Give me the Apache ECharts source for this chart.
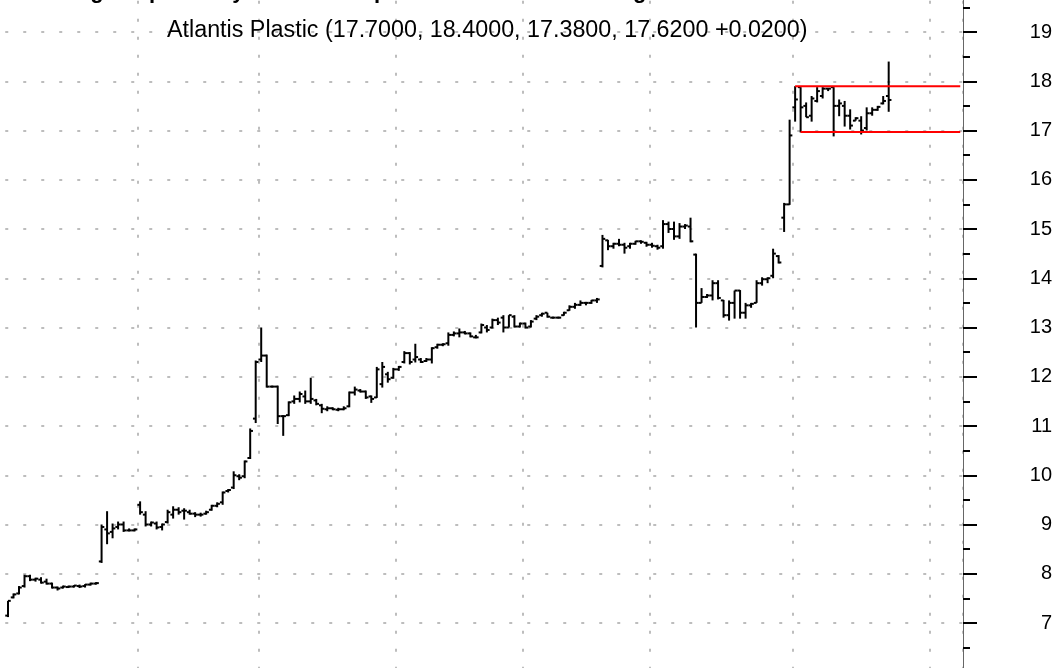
<!DOCTYPE html>
<html>
<head>
<meta charset="utf-8">
<title>Atlantis Plastic</title>
<script src="https://cdn.jsdelivr.net/npm/echarts@6.0.0/dist/echarts.min.js"></script>
<style>
	html, body {margin: 0; padding: 0; background: #fff;}
	#chart {width: 1061px; height: 668px;}
</style>
</head>
<body>
<div id="chart"></div>
<script>
// daily bars
var opens = [7.15,7.52,7.6,7.75,7.95,7.88,7.88,7.84,7.8,7.72,
	7.72,7.73,7.74,7.75,7.75,7.78,7.8,8.25,8.9,8.85,
	8.95,9.0,8.88,8.88,9.4,9.2,9.0,9.02,8.95,9.05,
	9.2,9.3,9.28,9.25,9.22,9.2,9.22,9.3,9.38,9.45,
	9.68,9.75,9.98,9.98,10.35,11.15,12.35,12.43,11.8,11.8,
	11.2,11.22,11.5,11.55,11.6,11.5,11.52,11.42,11.34,11.36,
	11.33,11.34,11.4,11.68,11.72,11.7,11.6,11.58,11.85,12.05,
	11.98,12.15,12.3,12.48,12.35,12.35,12.32,12.35,12.6,12.65,
	12.68,12.85,12.88,12.9,12.88,12.8,12.9,13.0,13.0,13.15,
	13.2,13.0,13.22,13.02,13.08,13.02,13.18,13.25,13.3,13.2,
	13.2,13.25,13.35,13.42,13.46,13.5,13.5,13.55,14.25,14.77,
	14.65,14.7,14.68,14.65,14.7,14.75,14.72,14.68,14.65,14.65,
	15.1,15.0,14.85,15.05,15.05,14.48,13.5,13.62,13.65,13.9,
	13.55,13.25,13.5,13.75,13.3,13.45,13.5,13.9,13.98,14.05,
	14.45,15.23,15.5,17.47,17.88,17.5,17.3,17.6,17.7,17.85,
	17.88,17.5,17.5,17.3,17.2,17.2,17.05,17.35,17.42,17.55,
	17.7];
var highs = [7.45,7.6,7.75,7.98,7.98,7.92,7.93,7.9,7.82,7.74,
	7.76,7.76,7.77,7.78,7.79,7.82,7.83,9.0,9.27,9.02,
	9.06,9.06,8.92,8.92,9.47,9.27,9.06,9.06,9.02,9.3,
	9.37,9.35,9.33,9.3,9.25,9.24,9.28,9.4,9.45,9.67,
	9.72,10.08,10.02,10.3,10.95,12.33,13.0,12.45,11.82,11.82,
	11.22,11.5,11.62,11.7,11.72,11.98,11.55,11.45,11.4,11.38,
	11.37,11.4,11.7,11.8,11.75,11.72,11.62,12.2,12.3,12.1,
	12.18,12.22,12.52,12.5,12.67,12.38,12.38,12.6,12.67,12.68,
	12.9,12.92,12.98,12.93,12.9,12.85,13.08,13.05,13.18,13.2,
	13.25,13.25,13.25,13.1,13.1,13.15,13.25,13.3,13.3,13.22,
	13.22,13.32,13.45,13.5,13.55,13.52,13.56,13.6,14.88,14.78,
	14.72,14.8,14.72,14.72,14.76,14.77,14.74,14.72,14.68,15.18,
	15.15,15.15,15.12,15.1,15.23,14.5,13.8,13.68,13.96,13.96,
	13.56,13.55,13.75,13.76,13.5,13.5,13.96,14.02,14.02,14.6,
	14.47,15.53,17.22,17.9,17.88,17.57,17.7,17.88,17.88,17.86,
	17.88,17.63,17.6,17.43,17.27,17.29,17.47,17.47,17.5,17.7,
	18.4];
var lows = [7.12,7.5,7.58,7.72,7.85,7.84,7.8,7.78,7.7,7.66,
	7.7,7.71,7.72,7.71,7.72,7.76,7.78,8.22,8.6,8.72,
	8.9,8.85,8.86,8.86,9.2,8.96,8.96,8.9,8.88,9.02,
	9.12,9.2,9.1,9.2,9.15,9.16,9.2,9.28,9.35,9.4,
	9.65,9.72,9.9,9.94,10.33,11.06,12.3,11.78,11.78,11.04,
	10.8,11.2,11.45,11.48,11.45,11.45,11.42,11.26,11.3,11.32,
	11.3,11.32,11.38,11.62,11.68,11.55,11.47,11.57,11.78,11.88,
	11.96,12.12,12.27,12.25,12.29,12.28,12.3,12.27,12.57,12.62,
	12.63,12.82,12.8,12.86,12.8,12.78,12.88,12.9,12.98,13.05,
	12.9,13.0,13.0,13.0,12.98,13.0,13.15,13.22,13.2,13.18,
	13.18,13.24,13.34,13.38,13.44,13.45,13.48,13.5,14.22,14.57,
	14.6,14.65,14.5,14.6,14.68,14.7,14.64,14.62,14.58,14.6,
	14.92,14.78,14.8,15.0,14.73,13.0,13.5,13.6,13.55,13.57,
	13.2,13.14,13.18,13.18,13.18,13.4,13.5,13.85,13.9,14.0,
	14.3,14.94,15.49,17.18,16.96,17.27,17.18,17.57,17.65,17.8,
	16.88,17.29,17.08,17.02,17.2,16.92,17.0,17.3,17.4,17.53,
	17.38];
var closes = [7.45,7.58,7.72,7.95,7.88,7.9,7.82,7.8,7.72,7.7,
	7.74,7.74,7.76,7.74,7.78,7.8,7.81,8.95,8.82,8.92,
	9.0,8.88,8.88,8.9,9.25,9.0,9.04,8.94,9.0,9.25,
	9.3,9.25,9.28,9.22,9.2,9.2,9.25,9.38,9.42,9.65,
	9.7,10.0,9.95,10.28,10.9,12.3,12.43,11.8,11.8,11.2,
	11.2,11.48,11.55,11.65,11.5,11.55,11.45,11.35,11.36,11.34,
	11.34,11.36,11.68,11.74,11.7,11.58,11.55,12.15,12.2,11.95,
	12.15,12.2,12.48,12.3,12.4,12.3,12.35,12.58,12.65,12.66,
	12.85,12.88,12.9,12.88,12.82,12.8,13.05,12.95,13.15,13.1,
	13.0,13.25,13.02,13.08,13.0,13.12,13.22,13.28,13.22,13.2,
	13.2,13.3,13.42,13.46,13.5,13.5,13.55,13.57,14.8,14.65,
	14.7,14.68,14.62,14.7,14.75,14.74,14.68,14.66,14.62,15.1,
	15.0,14.85,15.05,15.07,14.75,13.5,13.62,13.65,13.9,13.6,
	13.25,13.5,13.75,13.3,13.45,13.48,13.9,13.98,14.0,14.5,
	14.32,15.5,16.9,17.63,17.47,17.27,17.65,17.8,17.85,17.85,
	17.5,17.55,17.3,17.1,17.25,17.0,17.35,17.42,17.48,17.6,
	17.62];

var dayCount = 174;            // trading-day slots incl. empty space on the right
var monthStarts = [24, 46, 71, 94, 117, 143, 168];
var rectTop = 17.9, rectTopFrom = 143;
var rectBottom = 16.97, rectBottomFrom = 144;
var titleText = 'Rectangle top in daily chart with upward breakout from range';
var subText = 'Atlantis Plastic (17.7000, 18.4000, 17.3800, 17.6200 +0.0200)';

var days = [], bars = [], topLine = [], bottomLine = [];
for (var i = 0; i < dayCount; i++) {
	days.push(String(i + 1));
	topLine.push(i >= rectTopFrom ? rectTop : null);
	bottomLine.push(i >= rectBottomFrom ? rectBottom : null);
}
for (var j = 0; j < closes.length; j++) {
	bars.push([j, opens[j], highs[j], lows[j], closes[j]]);
}

function renderOhlc(params, api) {
	var x = api.value(0);
	var o = api.coord([x, api.value(1)]);
	var h = api.coord([x, api.value(2)]);
	var l = api.coord([x, api.value(3)]);
	var c = api.coord([x, api.value(4)]);
	var w = api.size([1, 0])[0] * 0.5;
	var st = {stroke: '#000', lineWidth: 2};
	return {
		type: 'group',
		children: [
			{type: 'line', shape: {x1: h[0], y1: h[1], x2: l[0], y2: l[1]}, style: st},
			{type: 'line', shape: {x1: o[0] - w, y1: o[1], x2: o[0], y2: o[1]}, style: st},
			{type: 'line', shape: {x1: c[0], y1: c[1], x2: c[0] + w, y2: c[1]}, style: st}
		]
	};
}

var chart = echarts.init(document.getElementById('chart'));
chart.setOption({
	animation: false,
	backgroundColor: '#fff',
	title: [{
		text: titleText,
		left: 12, top: -24,
		textStyle: {fontFamily: 'Liberation Sans', fontSize: 22, fontWeight: 'bold', color: '#000'}
	}, {
		text: subText,
		left: 162, top: 14,
		textStyle: {fontFamily: 'Liberation Sans', fontSize: 23.3, fontWeight: 'normal', color: '#000'}
	}],
	grid: {left: 5.25, right: 98, top: -17.25, height: 689.5, outerBoundsMode: 'none', containLabel: false},
	xAxis: {
		type: 'category',
		data: days,
		boundaryGap: true,
		axisLine: {show: false},
		axisTick: {show: false},
		axisLabel: {show: false},
		splitLine: {
			show: true,
			interval: function (idx) { return monthStarts.indexOf(idx) > -1; },
			lineStyle: {color: '#bdbdbd', width: 2, type: [3, 15]}
		}
	},
	yAxis: {
		type: 'value',
		position: 'right',
		min: 6, max: 20, interval: 1,
		axisLine: {show: true, lineStyle: {color: '#666', width: 1}},
		axisTick: {show: true, length: 14, lineStyle: {color: '#000', width: 2}},
		minorTick: {show: true, splitNumber: 2, length: 7, lineStyle: {color: '#000', width: 2}},
		axisLabel: {
			margin: 89, align: 'right',
			fontFamily: 'Liberation Sans', fontSize: 20, color: '#000',
			showMinLabel: false, showMaxLabel: false
		},
		splitLine: {show: true, lineStyle: {color: '#bdbdbd', width: 2, type: [3, 15]}}
	},
	series: [{
		type: 'custom',
		renderItem: renderOhlc,
		encode: {x: 0, y: [1, 2, 3, 4]},
		data: bars,
		z: 2
	}, {
		type: 'line', data: topLine, symbol: 'none', silent: true, z: 3,
		lineStyle: {color: '#ff0000', width: 2}
	}, {
		type: 'line', data: bottomLine, symbol: 'none', silent: true, z: 3,
		lineStyle: {color: '#ff0000', width: 2}
	}]
});
</script>
</body>
</html>
